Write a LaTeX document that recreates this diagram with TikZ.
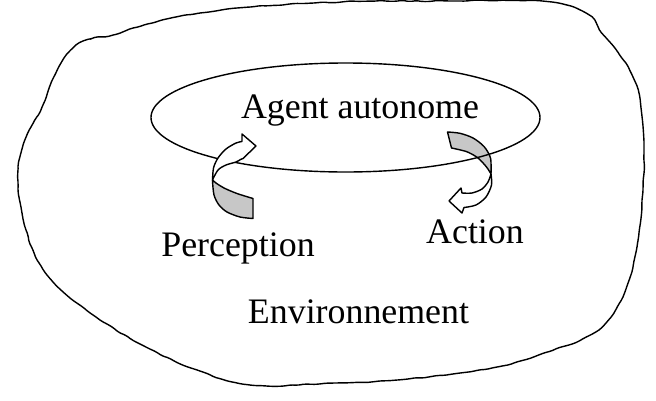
\documentclass[tikz,border=0pt]{standalone}
\usepackage{fontspec}
\setmainfont{Liberation Serif}
\usetikzlibrary{shapes.geometric, decorations.pathmorphing}

\begin{document}
\begin{tikzpicture}[x=0.25mm, y=-0.25mm,
    txt/.style={font=\fontsize{25.5}{30}\selectfont, inner sep=0pt, anchor=base},
    band/.style={draw, line width=1pt, fill=black!22, line join=round},
    front/.style={draw, line width=1pt, fill=white, line join=round},
    blob/.style={draw, line width=1pt, rounded corners=1.5pt, decorate, decoration={random steps, segment length=5pt, amplitude=0.45pt}}]
    \useasboundingbox (0,0) rectangle (656,400);
    \pgfmathsetseed{7}
    \draw[blob] plot[smooth cycle, tension=0.6] coordinates {(71,50) (88,40) (109,36) (138,27) (176,17) (209,12) (251,7) (314,3) (372,1.2) (450,1) (544,1.2) (586,13) (602,33) (628,67) (640,100) (644,150) (642,200) (638,240) (628,283) (611,317) (586,337) (544,353) (502,366) (460,373) (397,380) (335,383) (251,385) (197,370) (146,347) (96,317) (54,283) (33,250) (21,207) (18,173) (25,140) (42,107) (54,77)};
    \filldraw[band] plot[smooth] coordinates {(491,174) (490.5,158) (484,146.5) (473,138) (460,133.3) (447.5,132)} -- (451.5,148) -- plot[smooth] coordinates {(451.5,148) (466.7,151.7) (478,158) (486.5,167) (491,174)} -- cycle;
    \filldraw[front] plot[smooth] coordinates {(491,174) (491.5,185) (486,197) (476,205) (464,207.5)} -- (462,213) -- (449,201) -- (461,188) -- (462,193) -- plot[smooth] coordinates {(462,193) (472,193) (482,189) (488,182) (491,174)} -- cycle;
    \node[draw, ellipse, line width=1pt, inner sep=0pt, minimum width=97.25mm, minimum height=27.25mm] (agent) at (345.5,117.5) {};
    \filldraw[band] plot[smooth] coordinates {(212.5,181) (214,195) (219,205) (227,212) (240,217) (253,218.5)} -- (253,198.5) -- plot[smooth] coordinates {(253,198.5) (237,193.5) (224,188) (216,183) (212.5,180)} -- cycle;
    \filldraw[front] plot[smooth] coordinates {(212.5,181) (213.5,168) (218,158) (226,149) (236,143) (242,141.5)} -- (242,134) -- (256,146) -- (243,158.5) -- (240.5,159.5) -- plot[smooth] coordinates {(240.5,159.5) (236,162) (226,165) (218,170) (212.5,180)} -- cycle;
    \node[txt] (agentlbl) at (360,118.5) {Agent autonome};
    \node[txt] (perception) at (238,256) {Perception};
    \node[txt] (action) at (475,243) {Action};
    \node[txt] (env) at (358.5,323.5) {Environnement};
\end{tikzpicture}
\end{document}
